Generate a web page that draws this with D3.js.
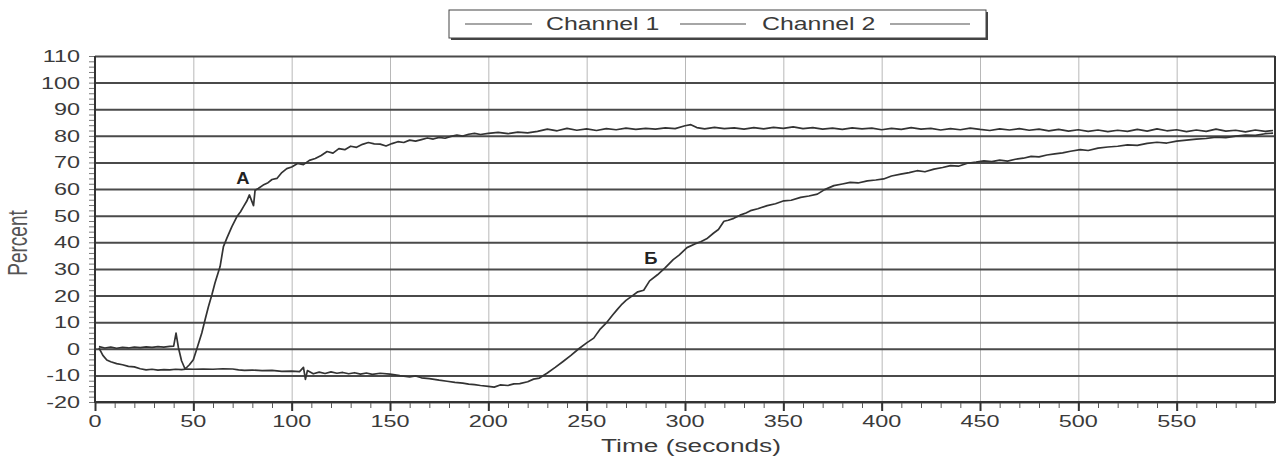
<!DOCTYPE html>
<html>
<head>
<meta charset="utf-8">
<script src="https://cdn.jsdelivr.net/npm/d3@7"></script>
<style>
body { margin: 0; background: #fff; }
text { font-family: "Liberation Sans", Arial, sans-serif; fill: #3a3a3a; }
</style>
</head>
<body>
<svg></svg>
<script>
// time (s), percent
const channel1 = [
  [2,0.8],[5,0.3],[8,0.6],[11,0.2],[14,0.5],[17,0.3],[20,0.6],[23,0.4],[26,0.7],[29,0.5],
  [32,0.8],[35,0.6],[38,0.9],[40,1.0],[41.2,5.9],[42.4,0.5],[44,-4.5],[45.8,-7.6],[48,-6.0],[50,-4.1],
  [52,0.5],[54.3,5.9],[56,11],[57.7,15.9],[59.5,20.5],[61,24.7],[63.6,30.9],[65.3,38.4],[67,41.5],[69.6,45.9],
  [72.1,49.6],[74,51.5],[75.5,53.4],[77.2,55.5],[78.5,57.8],[80.6,53.8],[81.4,59.6],[83,60.2],[85.5,61.5],[88,62.4],
  [90,63.6],[92.5,64],[95,66.2],[97.5,67.7],[100,68.3],[103,69.6],[106,69.2],[109,70.8],[112,71.5],[115,72.6],
  [118,74.1],[121,73.5],[124,75.2],[127,74.8],[130,76.1],[133,75.7],[136,76.8],[139,77.5],[142,77.0],[145,76.9],
  [148,76.2],[151,77.1],[154,77.8],[157,77.5],[160,78.4],[163,78.0],[166,78.6],[169,79.2],[172,78.8],[175,79.4],
  [178,79.1],[181,79.8],[184,80.3],[187,79.9],[190,80.6],[193,80.9],[196,80.5],[200,80.9],[205,81.3],[210,80.8],
  [215,81.4],[220,81.1],[225,81.7],[230,82.5],[235,81.9],[240,82.8],[245,82.1],[250,82.6],[255,82.0],[260,82.7],
  [265,82.3],[270,82.9],[275,82.4],[280,82.8],[285,82.5],[290,83.0],[295,82.7],[300,83.8],[303,84.2],[306,83.1],
  [310,82.6],[315,83.2],[320,82.7],[325,83.0],[330,82.5],[335,83.1],[340,82.6],[345,83.2],[350,82.8],[355,83.4],
  [360,82.7],[365,83.1],[370,82.5],[375,82.9],[380,82.4],[385,83.0],[390,82.6],[395,82.9],[400,82.3],[405,82.8],
  [410,82.4],[415,83.1],[420,82.5],[425,82.8],[430,82.2],[435,82.7],[440,82.3],[445,82.9],[450,82.4],[455,82.0],
  [460,82.6],[465,82.2],[470,82.7],[475,82.1],[480,82.5],[485,81.9],[490,82.4],[495,81.8],[500,82.3],[505,81.7],
  [510,82.2],[515,81.6],[520,82.1],[525,81.7],[530,82.4],[535,81.8],[540,82.6],[545,81.9],[550,82.3],[555,81.6],
  [560,82.2],[565,81.7],[570,82.5],[575,81.8],[580,82.1],[585,81.5],[590,82.2],[595,81.7],[599,82.0]
];

const channel2 = [
  [2,0.3],[4,-2.5],[6,-4.2],[8,-4.9],[11,-5.6],[14,-6.0],[17,-6.6],[20,-6.8],[23,-7.5],[26,-7.9],
  [29,-7.7],[32,-8.0],[35,-7.8],[38,-7.9],[41,-7.7],[44,-7.8],[47,-7.6],[50,-7.7],[55,-7.6],[60,-7.7],
  [65,-7.5],[70,-7.6],[73,-7.9],[76,-8.1],[80,-8.0],[85,-8.2],[90,-8.1],[95,-8.5],[100,-8.4],[104,-8.6],
  [106,-7.0],[107,-11.5],[108,-8.2],[111,-9.4],[114,-8.8],[117,-9.3],[120,-8.7],[123,-9.2],[126,-8.9],[129,-9.4],
  [132,-9.0],[135,-9.5],[138,-9.1],[141,-9.6],[145,-9.2],[150,-9.5],[155,-10.1],[160,-10.6],[163,-10.2],[166,-10.9],
  [170,-11.2],[175,-11.8],[179,-12.2],[183,-12.6],[187,-12.9],[190,-13.3],[193,-13.5],[196,-13.8],[200,-14.1],[203,-14.4],
  [206,-13.6],[210,-13.8],[213,-13.2],[216,-13.1],[220,-12.4],[223,-11.4],[226,-11.0],[230,-9.1],[234,-7.0],[238,-4.8],
  [242,-2.5],[246,0],[250,2.2],[253.6,4],[257,7.5],[260,9.7],[263,12.5],[265.5,14.7],[268,16.8],[270,18.2],
  [273,19.8],[276,21.4],[279,22.0],[282,25.5],[286,27.8],[290,30.5],[294,33.5],[297,35.2],[301,38.0],[305,39.4],
  [308,40.2],[311,41.3],[314.6,43.5],[317,44.8],[319.8,47.9],[322,48.3],[324.8,49.0],[328,50.2],[331,51.0],[333.3,51.9],
  [337,52.6],[341.8,53.8],[346,54.5],[350.3,55.6],[354,55.8],[358.8,56.9],[363,57.4],[367.3,58.1],[371,59.8],[375.7,61.3],
  [380,61.9],[384,62.5],[388,62.3],[392.7,63.1],[397,63.4],[401,63.8],[405,64.9],[409.7,65.6],[414,66.2],[418,66.9],
  [422,66.5],[426.6,67.5],[431,68.1],[435,68.8],[439,68.6],[443.6,69.7],[448,70.1],[452,70.6],[456,70.3],[460,70.9],
  [464,70.5],[468,71.2],[472,71.6],[476,72.3],[480,72.1],[484,72.8],[488,73.2],[492,73.6],[496,74.2],[501,74.8],
  [505,74.5],[510,75.4],[515,75.8],[520,76.1],[525,76.6],[530,76.4],[535,77.2],[540,77.6],[545,77.3],[550,78.0],
  [555,78.4],[560,78.8],[565,79.0],[570,79.5],[575,79.3],[580,79.9],[585,80.3],[590,80.2],[595,80.8],[599,81.0]
];

const xTicks = [0, 50, 100, 150, 200, 250, 300, 350, 400, 450, 500, 550];
const yTicks = [-20, -10, 0, 10, 20, 30, 40, 50, 60, 70, 80, 90, 100, 110];
const seriesNames = ['Channel 1', 'Channel 2'];
const notes = [
  { label: 'A', t: 75.2, v: 64.3 },
  { label: 'Б', t: 282.7, v: 34.2 }
];

let width = 1286;
let height = 458;
let stretch = 1.42; // the picture is wider than the font

let svg = d3.select('svg')
    .attr('width', width)
    .attr('height', height);

let x = d3.scaleLinear().domain([0, 600]).range([95, 1275]);
let y = d3.scaleLinear().domain([-20, 110]).range([402, 56]);

// vertical grid, light
svg.append('g')
    .attr('transform', `translate(0, ${y(-20)})`)
    .call(d3.axisBottom(x).tickValues(xTicks.slice(1)).tickSize(-(y(-20) - y(110))).tickFormat(''))
    .call(g => g.select('.domain').remove())
    .selectAll('line')
    .attr('stroke', '#b8b8b8')
    .attr('stroke-width', 1);

// horizontal grid, dark
svg.append('g')
    .attr('transform', `translate(${x(0)}, 0)`)
    .call(d3.axisLeft(y).tickValues(yTicks).tickSize(-(x(600) - x(0))).tickFormat(''))
    .call(g => g.select('.domain').remove())
    .selectAll('line')
    .attr('stroke', '#4a4a4a')
    .attr('stroke-width', 2);

// minor ticks on the y axis
svg.append('g')
    .attr('transform', `translate(${x(0)}, 0)`)
    .call(d3.axisLeft(y).tickValues(d3.range(-20, 111, 2)).tickSize(6).tickFormat(''))
    .call(g => g.select('.domain').remove())
    .selectAll('line')
    .attr('stroke', '#777')
    .attr('stroke-width', 1);

// x ticks, minor then major
svg.append('g')
    .attr('transform', `translate(0, ${y(-20)})`)
    .call(d3.axisBottom(x).tickValues(d3.range(10, 600, 10)).tickSize(6).tickFormat(''))
    .call(g => g.select('.domain').remove())
    .selectAll('line')
    .attr('stroke', '#555')
    .attr('stroke-width', 1);
svg.append('g')
    .attr('transform', `translate(0, ${y(-20)})`)
    .call(d3.axisBottom(x).tickValues(xTicks).tickSize(9).tickFormat(''))
    .call(g => g.select('.domain').remove())
    .selectAll('line')
    .attr('stroke', '#333')
    .attr('stroke-width', 2);

// frame: left, bottom, right
svg.append('path')
    .attr('d', `M${x(0)},${y(110)}V${y(-20)}H${x(600)}V${y(110)}`)
    .attr('fill', 'none')
    .attr('stroke', '#333')
    .attr('stroke-width', 2);

// tick labels, drawn by hand so they can be stretched
svg.append('g').selectAll('text')
    .data(xTicks)
    .enter()
    .append('text')
    .attr('transform', d => `translate(${x(d)}, 427) scale(${stretch}, 1)`)
    .attr('text-anchor', 'middle')
    .style('font-size', '16.5px')
    .text(d => d);

svg.append('g').selectAll('text')
    .data(yTicks)
    .enter()
    .append('text')
    .attr('transform', d => `translate(80, ${y(d) + 6}) scale(${stretch}, 1)`)
    .attr('text-anchor', 'end')
    .style('font-size', '16.5px')
    .text(d => d);

// axis titles
svg.append('text')
    .attr('transform', `translate(${(x(0) + x(600)) / 2 + 6}, 452) scale(${stretch}, 1)`)
    .attr('text-anchor', 'middle')
    .style('font-size', '18.5px')
    .text('Time (seconds)');

svg.append('text')
    .attr('transform', `translate(27, 243) scale(${stretch}, 1) rotate(-90)`)
    .attr('text-anchor', 'middle')
    .style('font-size', '19px')
    .style('fill', '#555')
    .text('Percent');

// curves
let line = d3.line()
    .x(d => x(d[0]))
    .y(d => y(d[1]));

[channel1, channel2].forEach(series => {
    svg.append('path')
        .datum(series)
        .attr('d', line)
        .attr('fill', 'none')
        .attr('stroke', '#333')
        .attr('stroke-width', 1.7)
        .attr('stroke-linejoin', 'round');
});

// letters on the curves
svg.append('g').selectAll('text')
    .data(notes)
    .enter()
    .append('text')
    .attr('transform', d => `translate(${x(d.t)}, ${y(d.v) + 6}) scale(1.15, 1)`)
    .attr('text-anchor', 'middle')
    .style('font-size', '16px')
    .style('font-weight', 'bold')
    .style('fill', '#222')
    .text(d => d.label);

// legend
let legend = svg.append('g');
legend.append('rect')
    .attr('x', 451).attr('y', 12)
    .attr('width', 537).attr('height', 28)
    .attr('fill', '#444');
legend.append('rect')
    .attr('x', 449).attr('y', 10)
    .attr('width', 537).attr('height', 28)
    .attr('fill', '#fff')
    .attr('stroke', '#444')
    .attr('stroke-width', 1);

let legendLines = [[465, 532], [680, 746], [890, 970]];
legend.selectAll('line')
    .data(legendLines)
    .enter()
    .append('line')
    .attr('x1', d => d[0]).attr('x2', d => d[1])
    .attr('y1', 24).attr('y2', 24)
    .attr('stroke', '#888')
    .attr('stroke-width', 1.5);

let legendText = [546, 762];
legend.selectAll('text')
    .data(seriesNames)
    .enter()
    .append('text')
    .attr('transform', (d, i) => `translate(${legendText[i]}, 30) scale(${stretch}, 1)`)
    .style('font-size', '17.5px')
    .text(d => d);
</script>
</body>
</html>
